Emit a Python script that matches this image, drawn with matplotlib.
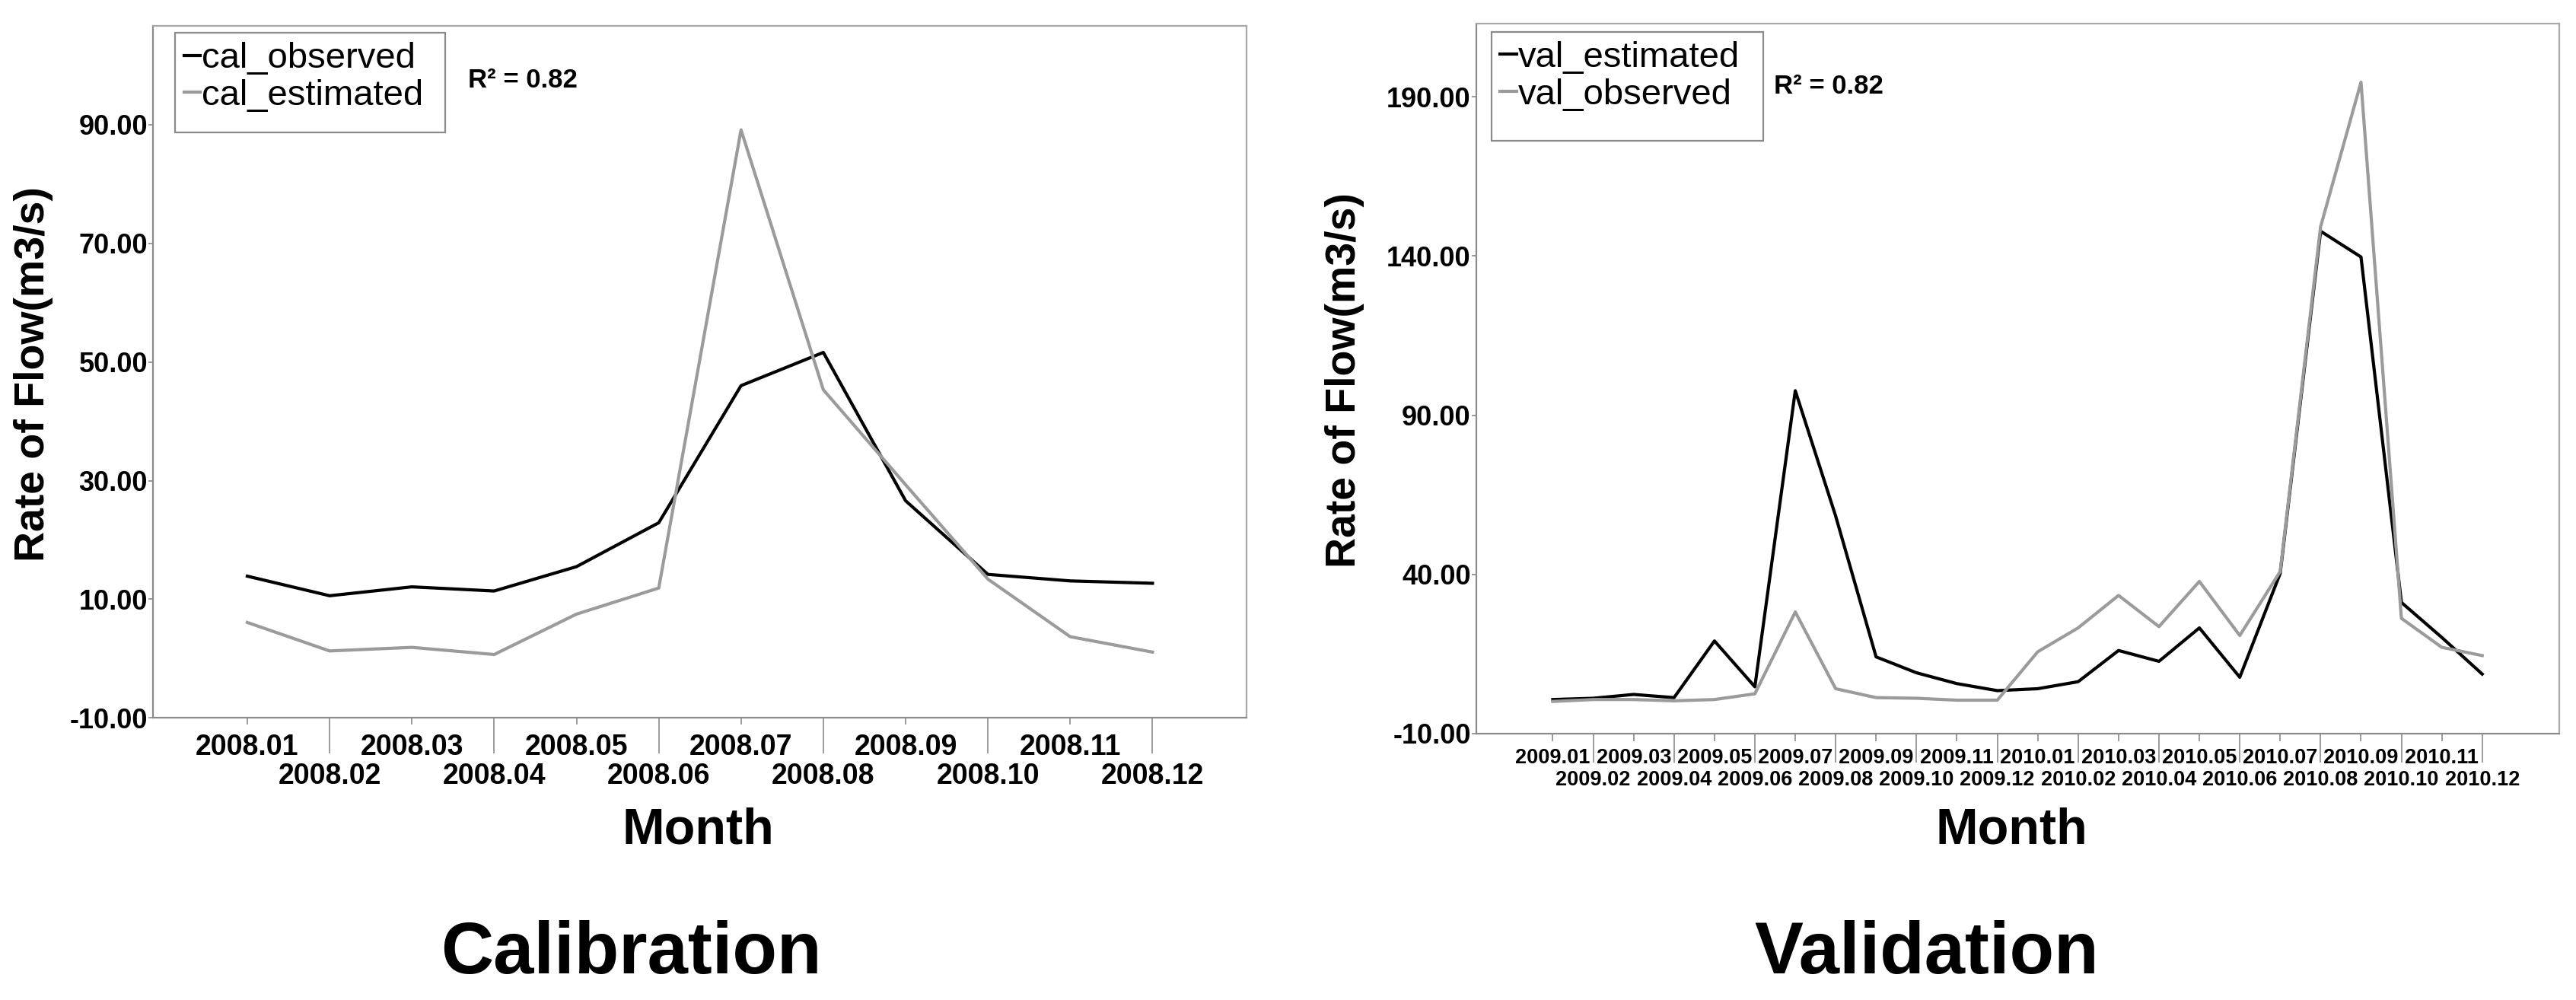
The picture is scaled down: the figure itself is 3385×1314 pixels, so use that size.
import matplotlib.pyplot as plt
import numpy as np
from matplotlib.patches import Rectangle

plt.rcParams['font.family'] = ['Liberation Sans', 'DejaVu Sans']
plt.rcParams['font.weight'] = 'bold'

# calibration period
cal_months = ["2008.01", "2008.02", "2008.03", "2008.04", "2008.05", "2008.06",
              "2008.07", "2008.08", "2008.09", "2008.10", "2008.11", "2008.12"]
cal_observed = [13.9, 10.6, 12.1, 11.4, 15.5, 22.9, 46.0, 51.6, 26.6, 14.2, 13.1, 12.7]
cal_estimated = [6.1, 1.3, 1.9, 0.7, 7.5, 11.9, 89.1, 45.3, 29.3, 13.4, 3.7, 1.1]
cal_yticks = [-10, 10, 30, 50, 70, 90]

# validation period
val_months = ["2009.01", "2009.02", "2009.03", "2009.04", "2009.05", "2009.06",
              "2009.07", "2009.08", "2009.09", "2009.10", "2009.11", "2009.12",
              "2010.01", "2010.02", "2010.03", "2010.04", "2010.05", "2010.06",
              "2010.07", "2010.08", "2010.09", "2010.10", "2010.11", "2010.12"]
val_estimated = [0.7, 1.1, 2.3, 1.3, 19.1, 4.7, 97.7, 58.3, 14.1, 9.1, 5.7, 3.5,
                 4.1, 6.3, 16.1, 12.7, 23.2, 7.7, 40.3, 147.8, 139.7, 31.2, 20.2, 8.7]
val_observed = [0.1, 0.7, 0.7, 0.3, 0.7, 2.5, 28.2, 4.1, 1.3, 1.1, 0.5, 0.5,
                15.7, 23.2, 33.4, 23.6, 37.8, 20.8, 40.9, 149.2, 194.6, 26.2, 17.1, 14.5]
val_yticks = [-10, 40, 90, 140, 190]

GRAY = '#9b9b9b'
SPINE = '#8a8a8a'


def panel(ax, months, black, gray, names, ymax, yticks, xpad, xfs,
          short, long_, pad1, pad2, leg_box, r2_pos):
    x = np.arange(len(months))
    ax.plot(x, black, color='black', lw=3.0, label=names[0])
    ax.plot(x, gray, color=GRAY, lw=3.0, label=names[1])
    ax.set_xlim(-xpad, len(months) - 1 + xpad)
    ax.set_ylim(-10, ymax)
    ax.set_yticks(yticks)
    ax.set_yticklabels([f"{v:.2f}" for v in yticks])
    ax.set_xticks(x[::2], months[::2])
    ax.set_xticks(x[1::2], months[1::2], minor=True)
    ax.tick_params(axis='x', which='major', length=short, pad=pad1,
                   labelsize=xfs, color=SPINE, width=1.2)
    ax.tick_params(axis='x', which='minor', length=long_, pad=pad2,
                   labelsize=xfs, color=SPINE, width=1.2)
    ax.tick_params(axis='y', length=4, pad=1, labelsize=26, color=SPINE, width=1.2)
    for s in ax.spines.values():
        s.set_color('#a8a8a8')
        s.set_linewidth(1.6)
    ax.spines['left'].set_color(SPINE)
    ax.spines['bottom'].set_color(SPINE)

    # legend frame is a bit taller than its two rows
    x0, y0, x1, y1 = leg_box
    ax.add_patch(Rectangle((x0, y0), x1 - x0, y1 - y0, transform=ax.transAxes,
                           fill=False, edgecolor='#8a8a8a', lw=1.6, zorder=5))
    leg = ax.legend(loc='upper left', bbox_to_anchor=(x0, y1), frameon=False,
                    prop={'size': 34, 'weight': 'normal'}, handlelength=0.45,
                    handletextpad=0.05, labelspacing=0.1, borderpad=0.25,
                    borderaxespad=0)
    for line in leg.get_lines():
        line.set_linewidth(3.0)
    ax.text(r2_pos[0], r2_pos[1], "R² = 0.82", transform=ax.transAxes,
            fontsize=25, ha='left', va='center')


fig = plt.figure(figsize=(33.85, 13.14), dpi=100)
ax1 = fig.add_axes([0.0594, 0.282, 0.4246, 0.692])
ax2 = fig.add_axes([0.573, 0.2664, 0.4204, 0.71])

panel(ax1, cal_months, cal_observed, cal_estimated, ["cal_observed", "cal_estimated"],
      106.6, cal_yticks, 1.146, 27, 6.5, 34, 8, 8,
      (0.020, 0.846, 0.267, 0.990), (0.288, 0.922))
panel(ax2, val_months, val_estimated, val_observed, ["val_estimated", "val_observed"],
      213, val_yticks, 1.9, 19.5, 7, 27, 7, 7.5,
      (0.014, 0.835, 0.265, 0.988), (0.275, 0.912))

# axis titles
fig.text(0.271, 0.169, "Month", fontsize=48, ha='center', va='center')
fig.text(0.781, 0.169, "Month", fontsize=48, ha='center', va='center')
fig.text(0.013, 0.626, "Rate of Flow(m3/s)", fontsize=40, rotation=90,
         ha='center', va='center')
fig.text(0.522, 0.62, "Rate of Flow(m3/s)", fontsize=40, rotation=90,
         ha='center', va='center')

fig.text(0.245, 0.046, "Calibration", fontsize=69, ha='center', va='center')
fig.text(0.748, 0.046, "Validation", fontsize=69, ha='center', va='center')

fig.savefig("out.png", dpi=100)
